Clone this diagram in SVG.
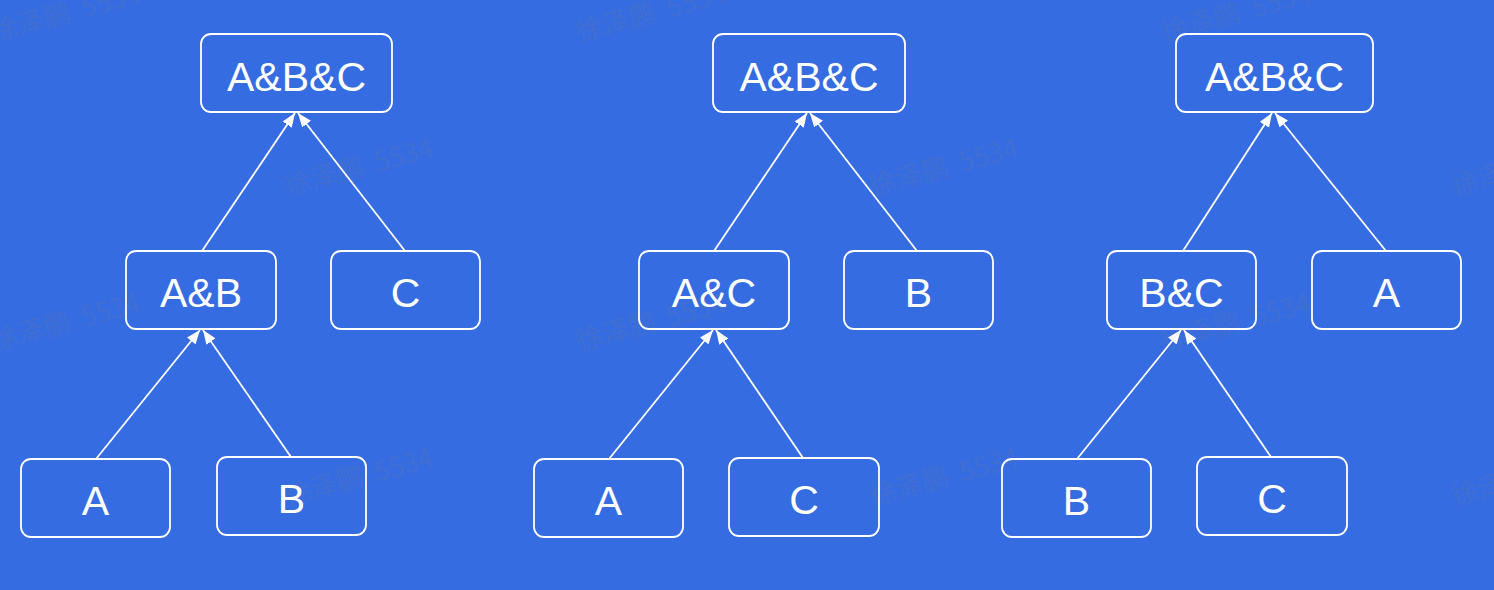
<svg xmlns="http://www.w3.org/2000/svg" width="1494" height="590" viewBox="0 0 1494 590">
<style>
.bg{fill:#356ce2}
.node rect{fill:none;stroke:#ffffff;stroke-width:1.8}
.node text{fill:#ffffff;font-family:"Liberation Sans",Arial,sans-serif;font-size:41px;text-anchor:middle}
.edge{stroke:#ffffff;stroke-width:1.8;fill:none;marker-end:url(#arrow)}
.wm{fill:#6f7890;fill-opacity:0.22;font-family:"Noto Sans CJK SC","Liberation Sans",sans-serif;font-size:27px;white-space:pre}
</style>
<defs>
<marker id="arrow" viewBox="0 0 14 11" refX="14" refY="5.5" markerWidth="14" markerHeight="11" markerUnits="userSpaceOnUse" orient="auto">
<path d="M0,0 L14,5.5 L0,11 z" fill="#ffffff"/>
</marker>
</defs>
<rect class="bg" x="0" y="0" width="1494" height="590"/>
<g id="watermarks">
<text class="wm" xml:space="preserve" transform="translate(-6,42) rotate(-15)">徐泽鹏  5534</text>
<text class="wm" xml:space="preserve" transform="translate(579,42) rotate(-15)">徐泽鹏  5534</text>
<text class="wm" xml:space="preserve" transform="translate(1164,42) rotate(-15)">徐泽鹏  5534</text>
<text class="wm" xml:space="preserve" transform="translate(287,196) rotate(-15)">徐泽鹏  5534</text>
<text class="wm" xml:space="preserve" transform="translate(872,196) rotate(-15)">徐泽鹏  5534</text>
<text class="wm" xml:space="preserve" transform="translate(1454,196) rotate(-15)">徐泽鹏  5534</text>
<text class="wm" xml:space="preserve" transform="translate(-6,351) rotate(-15)">徐泽鹏  5534</text>
<text class="wm" xml:space="preserve" transform="translate(579,351) rotate(-15)">徐泽鹏  5534</text>
<text class="wm" xml:space="preserve" transform="translate(1164,351) rotate(-15)">徐泽鹏  5534</text>
<text class="wm" xml:space="preserve" transform="translate(287,506) rotate(-15)">徐泽鹏  5534</text>
<text class="wm" xml:space="preserve" transform="translate(872,506) rotate(-15)">徐泽鹏  5534</text>
<text class="wm" xml:space="preserve" transform="translate(1454,506) rotate(-15)">徐泽鹏  5534</text>
</g>
<g id="connectors">
<line class="edge" x1="202" y1="251" x2="295" y2="113"/>
<line class="edge" x1="405" y1="251" x2="298" y2="113"/>
<line class="edge" x1="96" y1="459" x2="200" y2="330"/>
<line class="edge" x1="291" y1="457" x2="203" y2="330"/>
<line class="edge" x1="714" y1="251" x2="807" y2="113"/>
<line class="edge" x1="917" y1="251" x2="810" y2="113"/>
<line class="edge" x1="609" y1="459" x2="713" y2="330"/>
<line class="edge" x1="803" y1="458" x2="716" y2="330"/>
<line class="edge" x1="1183" y1="251" x2="1272" y2="113"/>
<line class="edge" x1="1386" y1="251" x2="1275" y2="113"/>
<line class="edge" x1="1077" y1="459" x2="1181" y2="330"/>
<line class="edge" x1="1271" y1="457" x2="1184" y2="330"/>
</g>
<g id="t1-abc" class="node"><rect x="201" y="34" width="191" height="78" rx="10"/><text x="296.5" y="91">A&amp;B&amp;C</text></g>
<g id="t1-ab" class="node"><rect x="126" y="251" width="150" height="78" rx="10"/><text x="201" y="307">A&amp;B</text></g>
<g id="t1-c" class="node"><rect x="331" y="251" width="149" height="78" rx="10"/><text x="405.5" y="307">C</text></g>
<g id="t1-a" class="node"><rect x="21" y="459" width="149" height="78" rx="10"/><text x="95.5" y="515">A</text></g>
<g id="t1-b" class="node"><rect x="217" y="457" width="149" height="78" rx="10"/><text x="291.5" y="513">B</text></g>
<g id="t2-abc" class="node"><rect x="713" y="34" width="192" height="78" rx="10"/><text x="809" y="91">A&amp;B&amp;C</text></g>
<g id="t2-ac" class="node"><rect x="639" y="251" width="150" height="78" rx="10"/><text x="714" y="307">A&amp;C</text></g>
<g id="t2-b" class="node"><rect x="844" y="251" width="149" height="78" rx="10"/><text x="918.5" y="307">B</text></g>
<g id="t2-a" class="node"><rect x="534" y="459" width="149" height="78" rx="10"/><text x="608.5" y="515">A</text></g>
<g id="t2-c" class="node"><rect x="729" y="458" width="150" height="78" rx="10"/><text x="804" y="514">C</text></g>
<g id="t3-abc" class="node"><rect x="1176" y="34" width="197" height="78" rx="10"/><text x="1274.5" y="91">A&amp;B&amp;C</text></g>
<g id="t3-bc" class="node"><rect x="1107" y="251" width="149" height="78" rx="10"/><text x="1181.5" y="307">B&amp;C</text></g>
<g id="t3-a" class="node"><rect x="1312" y="251" width="149" height="78" rx="10"/><text x="1386.5" y="307">A</text></g>
<g id="t3-b" class="node"><rect x="1002" y="459" width="149" height="78" rx="10"/><text x="1076.5" y="515">B</text></g>
<g id="t3-c" class="node"><rect x="1197" y="457" width="150" height="78" rx="10"/><text x="1272" y="513">C</text></g>
</svg>
